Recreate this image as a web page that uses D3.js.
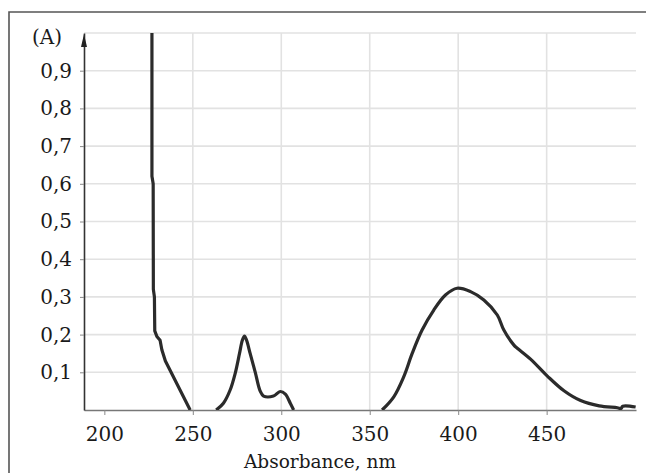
<!DOCTYPE html>
<html>
<head>
<meta charset="utf-8">
<script src="https://cdn.jsdelivr.net/npm/d3@7"></script>
<style>
  body { margin: 0; background: #fff; }
  svg { display: block; font-family: "DejaVu Serif", serif; }
  .tick text { fill: #1a1a1a; }
</style>
</head>
<body>
<svg width="646" height="473"></svg>
<script>
// spectrum: [wavelength nm, absorbance]
const segShort = [
  [226.9, 1.05], [226.9, 0.62], [227.6, 0.6], [227.7, 0.32], [228.3, 0.3],
  [228.5, 0.21], [229.7, 0.195], [231.5, 0.185], [232.5, 0.16], [234.5, 0.13],
  [248.5, 0.0]
];
const segBand = [
  [263.2, 0.0], [267.3, 0.018], [271.1, 0.053], [274.0, 0.098], [276.4, 0.15],
  [278.0, 0.185], [279.2, 0.196], [280.4, 0.185], [282.4, 0.150], [285.3, 0.100],
  [288.1, 0.050], [290.0, 0.037], [295.6, 0.037], [299.4, 0.049], [302.3, 0.042],
  [305.1, 0.018], [307.0, 0.0]
];
const segVis = [
  [357.0, 0.0], [363.6, 0.035], [369.2, 0.088], [374.0, 0.15], [379.6, 0.212],
  [386.2, 0.265], [392.8, 0.305], [399.4, 0.323], [407.0, 0.314], [414.5, 0.292],
  [422.1, 0.252], [425.8, 0.212], [431.5, 0.172], [433.4, 0.164],
  [440.9, 0.135], [450.4, 0.09], [459.8, 0.051], [469.2, 0.025], [479.7, 0.011],
  [490.0, 0.006], [492.0, 0.004], [493.0, 0.01], [500.3, 0.008]
];
const xTicks = [200, 250, 300, 350, 400, 450];
const xGrid = [250, 300, 350, 400, 450];
const yTicks = [0.1, 0.2, 0.3, 0.4, 0.5, 0.6, 0.7, 0.8, 0.9];
const yGrid = [0.1, 0.2, 0.3, 0.4, 0.5, 0.6, 0.7, 0.8, 0.9, 1.0];

const svg = d3.select("svg");
const pLeft = 84, pRight = 636, pTop = 33, pBottom = 410;

const x = d3.scaleLinear().domain([188.5, 500.5]).range([pLeft, pRight]);
const y = d3.scaleLinear().domain([0, 1]).range([pBottom, pTop]);

// outer frame (left and top edges)
svg.append("path")
  .attr("d", "M9,473 V12 H646")
  .attr("fill", "none")
  .attr("stroke", "#555")
  .attr("stroke-width", 1.6);

// grid
const grid = svg.append("g").attr("stroke", "#e2e2e2").attr("stroke-width", 1.6);
grid.selectAll(".hg").data(yGrid).join("line")
  .attr("x1", pLeft).attr("x2", pRight)
  .attr("y1", d => y(d)).attr("y2", d => y(d));
grid.selectAll(".vg").data(xGrid).join("line")
  .attr("y1", pTop).attr("y2", pBottom)
  .attr("x1", d => x(d)).attr("x2", d => x(d));

// x axis
const xAxis = svg.append("g")
  .attr("transform", `translate(0,${pBottom})`)
  .call(d3.axisBottom(x).tickValues(xTicks).tickSize(5).tickPadding(12).tickSizeOuter(0));
xAxis.select(".domain").attr("stroke", "#777").attr("stroke-width", 1.3);
xAxis.selectAll(".tick line").attr("stroke", "#888");
xAxis.selectAll(".tick text").attr("font-size", 20).attr("font-family", "DejaVu Serif");

// y axis
const yAxis = svg.append("g")
  .attr("transform", `translate(${pLeft},0)`)
  .call(d3.axisLeft(y).tickValues(yTicks).tickSize(4).tickPadding(8).tickSizeOuter(0)
    .tickFormat(d => d.toFixed(1).replace(".", ",")));
yAxis.select(".domain").attr("stroke", "#333").attr("stroke-width", 1.6);
yAxis.selectAll(".tick line").attr("stroke", "#888");
yAxis.selectAll(".tick text").attr("font-size", 20).attr("font-family", "DejaVu Serif");

// arrow at top of y axis
svg.append("path")
  .attr("d", `M${pLeft},${pTop + 1} L${pLeft - 3},${pTop + 14} L${pLeft + 3},${pTop + 14} Z`)
  .attr("fill", "#222");

// labels
svg.append("text")
  .attr("x", 32).attr("y", 44)
  .attr("font-size", 20)
  .attr("fill", "#1a1a1a")
  .text("(A)");

svg.append("text")
  .attr("x", 320).attr("y", 468)
  .attr("text-anchor", "middle")
  .attr("font-size", 18.5)
  .attr("fill", "#1a1a1a")
  .text("Absorbance, nm");

// spectrum
svg.append("clipPath").attr("id", "plot")
  .append("rect")
  .attr("x", pLeft).attr("y", pTop)
  .attr("width", pRight - pLeft).attr("height", pBottom - pTop);

const sharp = d3.line().x(d => x(d[0])).y(d => y(d[1]));
const smooth = d3.line().x(d => x(d[0])).y(d => y(d[1])).curve(d3.curveCatmullRom.alpha(0.5));

const spec = svg.append("g").attr("clip-path", "url(#plot)")
  .attr("fill", "none")
  .attr("stroke", "#2b2b2b")
  .attr("stroke-width", 3.2)
  .attr("stroke-linejoin", "round");

spec.append("path").attr("d", sharp(segShort));
spec.append("path").attr("d", smooth(segBand));
spec.append("path").attr("d", smooth(segVis));
</script>
</body>
</html>
